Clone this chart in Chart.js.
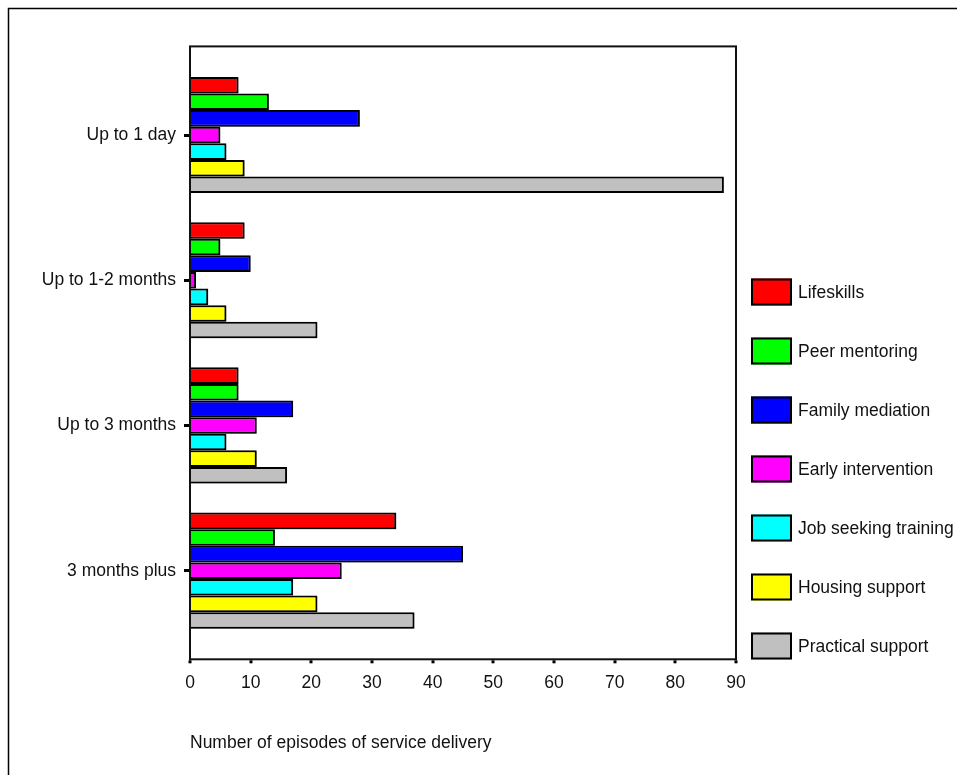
<!DOCTYPE html>
<html><head><meta charset="utf-8">
<script src="https://cdn.jsdelivr.net/npm/chart.js@4.4.1/dist/chart.umd.min.js"></script>
<style>html,body{margin:0;padding:0;background:#fff;overflow:hidden}#wrap{width:957px;height:775px;position:relative}</style>
</head><body><div id="wrap"><canvas id="c" width="957" height="775"></canvas></div>
<script>
const categories = ['Up to 1 day', 'Up to 1-2 months', 'Up to 3 months', '3 months plus'];
const lifeskills = [8, 9, 8, 34];
const peerMentoring = [13, 5, 8, 14];
const familyMediation = [28, 10, 17, 45];
const earlyIntervention = [5, 1, 11, 25];
const jobSeekingTraining = [6, 3, 6, 17];
const housingSupport = [9, 6, 11, 21];
const practicalSupport = [88, 21, 16, 37];
const seriesNames = ['Lifeskills', 'Peer mentoring', 'Family mediation', 'Early intervention', 'Job seeking training', 'Housing support', 'Practical support'];
const seriesValues = [lifeskills, peerMentoring, familyMediation, earlyIntervention, jobSeekingTraining, housingSupport, practicalSupport];
const seriesColors = ['#FF0000', '#00FF00', '#0000FF', '#FF00FF', '#00FFFF', '#FFFF00', '#C0C0C0'];
const xMin = 0, xMax = 90, xStep = 10;
const xTitle = 'Number of episodes of service delivery';

const FONT = "'Liberation Sans', Arial, sans-serif";
const FSIZE = 17.5;

const framePlugin = {
  id: 'frame',
  beforeDatasetsDraw(chart) {
    const ctx = chart.ctx;
    ctx.save();
    ctx.shadowColor = 'rgba(0,0,0,0.3)';
    ctx.shadowOffsetX = 1;
    ctx.shadowOffsetY = 1;
    ctx.shadowBlur = 0;
  },
  afterDatasetsDraw(chart) {
    chart.ctx.restore();
  },
  afterDraw(chart) {
    const ctx = chart.ctx;
    const a = chart.chartArea;
    const top = a.top - 16, bottom = a.bottom + 16;
    ctx.save();
    ctx.strokeStyle = '#000';
    ctx.lineWidth = 1.5;
    ctx.beginPath();
    ctx.moveTo(8.5, 780); ctx.lineTo(8.5, 8.5); ctx.lineTo(960, 8.5);
    ctx.stroke();
    ctx.strokeStyle = '#111';
    ctx.lineWidth = 2;
    ctx.strokeRect(a.left, top, a.right - a.left, bottom - top);
    const xs = chart.scales.x;
    ctx.fillStyle = '#000';
    for (let v = xMin; v <= xMax; v += xStep) {
      const px = xs.getPixelForValue(v);
      ctx.fillRect(Math.round(px) - 1.5, bottom + 1, 3, 3);
    }
    ctx.font = FSIZE + 'px ' + FONT;
    ctx.textBaseline = 'middle';
    ctx.textAlign = 'left';
    chart.data.datasets.forEach((ds, i) => {
      const cy = 292 + i * 59;
      ctx.fillStyle = ds.backgroundColor;
      ctx.fillRect(751, cy - 13.5, 41, 27);
      ctx.strokeStyle = '#000';
      ctx.lineWidth = 2;
      ctx.strokeRect(752, cy - 12.5, 39, 25);
      ctx.fillStyle = '#111';
      ctx.fillText(ds.label, 798, cy + 1);
    });
    ctx.restore();
  }
};

new Chart(document.getElementById('c'), {
  type: 'bar',
  data: {
    labels: categories,
    datasets: seriesNames.map((n, i) => ({
      label: n,
      data: seriesValues[i],
      backgroundColor: seriesColors[i],
      borderColor: '#000',
      borderWidth: 2,
      categoryPercentage: 0.8,
      barPercentage: 1.0
    }))
  },
  options: {
    indexAxis: 'y',
    responsive: false,
    animation: false,
    devicePixelRatio: 1,
    layout: { padding: { left: 0, right: 221, top: 62.4, bottom: 0 } },
    plugins: { legend: { display: false }, tooltip: { enabled: false } },
    scales: {
      x: {
        min: xMin, max: xMax,
        grid: { display: false, drawTicks: false },
        border: { display: false },
        ticks: { stepSize: xStep, color: '#111', padding: 29, font: { family: FONT, size: FSIZE } },
        title: { display: true, text: xTitle, align: 'start', color: '#111', font: { family: FONT, size: FSIZE }, padding: { top: 21, bottom: 21 } },
        afterFit(s) { s.height = 775 - 643.3; }
      },
      y: {
        grid: { display: true, drawOnChartArea: false, drawTicks: true, tickLength: 6, tickWidth: 3, tickColor: '#000', offset: false },
        border: { display: false },
        ticks: { color: '#111', padding: 8, font: { family: FONT, size: FSIZE } },
        afterFit(s) { s.width = 190; }
      }
    }
  },
  plugins: [framePlugin]
});
</script></body></html>
